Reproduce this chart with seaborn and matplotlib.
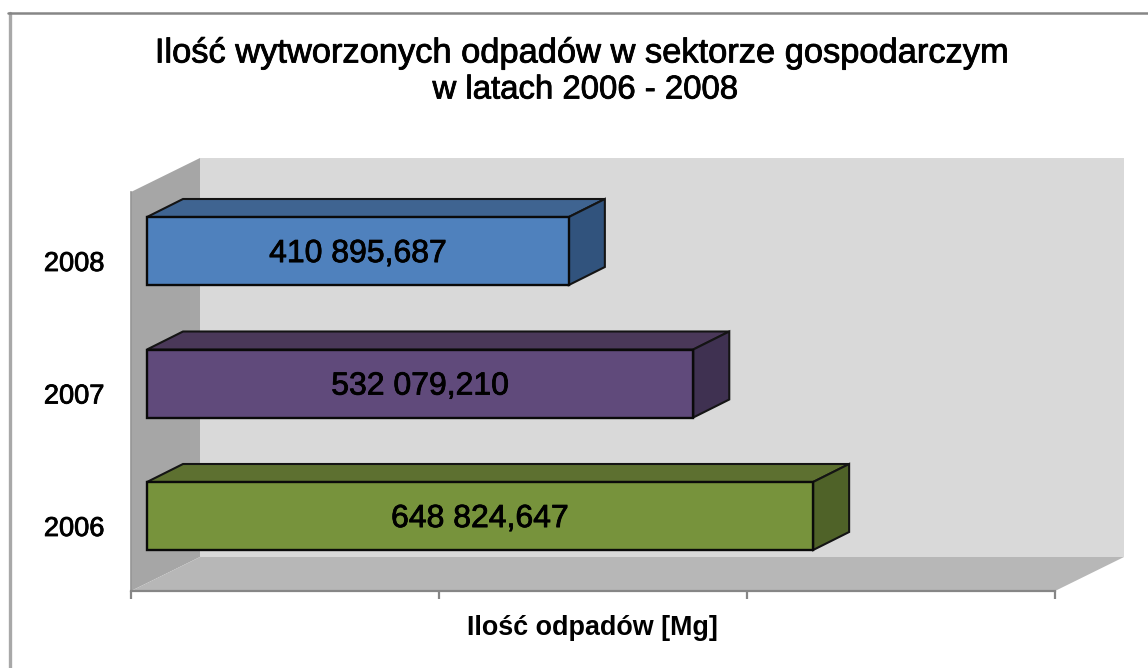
import matplotlib
matplotlib.use("Agg")
import matplotlib.pyplot as plt
import matplotlib.patheffects as pe
import pandas as pd
import seaborn as sns
from matplotlib.lines import Line2D
from matplotlib.patches import Polygon
from matplotlib.transforms import IdentityTransform

years = ["2008", "2007", "2006"]
values = [410895.687, 532079.210, 648824.647]
value_labels = ["410 895,687", "532 079,210", "648 824,647"]
face_colors = ["#4F81BD", "#604A7B", "#77933C"]
top_colors = ["#3F6491", "#4A3859", "#5D7030"]
side_colors = ["#31537D", "#3F3151", "#4F6228"]
title_line_1 = "Ilość wytworzonych odpadów w sektorze gospodarczym"
title_line_2 = "w latach 2006 - 2008"
x_label = "Ilość odpadów [Mg]"
tick_step = 300000
tick_count = 4

W, H = 1148, 668
sns.set_theme(style="white", rc={"font.family": ["Liberation Sans"]})
fig = plt.figure(figsize=(W / 100, H / 100), dpi=100, facecolor="white")
ax = fig.add_axes([131 / W, (H - 591) / H, (1055 - 131) / W, (591 - 192) / H])
ax.patch.set_visible(False)

df = pd.DataFrame({"year": years, "value": values})
sns.barplot(data=df, y="year", x="value", hue="year", palette=face_colors, legend=False,
            order=years, hue_order=years, width=68 / 132.5, edgecolor="#0A0A0A", linewidth=1.7,
            saturation=1, ax=ax, zorder=5, dodge=False)

px_per_unit = 924 / ((tick_count - 1) * tick_step)
x_left = -16 / px_per_unit
ax.set_xlim(x_left, x_left + (tick_count - 1) * tick_step)
ax.set_ylim((591 - 251) / 132.5, (192 - 251) / 132.5)


def add_pixel_poly(points, color, ec="none", lw=0, z=1):
    ax.add_patch(Polygon(points, closed=True, facecolor=color, edgecolor=ec, linewidth=lw,
                         transform=IdentityTransform(), clip_on=False, zorder=z))


# walls of the 3-D box, derived from the axes extents
wall_dx, wall_dy = 69, 34
(x0, y0), (x1, y1) = ax.transAxes.transform((0, 0)), ax.transAxes.transform((1, 1))
add_pixel_poly([(x0 + wall_dx, y0 + wall_dy), (x1 + wall_dx, y0 + wall_dy),
                (x1 + wall_dx, y1 + wall_dy), (x0 + wall_dx, y1 + wall_dy)], "#D9D9D9", z=1)
add_pixel_poly([(x0, y0), (x0 + wall_dx, y0 + wall_dy), (x0 + wall_dx, y1 + wall_dy), (x0, y1)],
               "#A6A6A6", z=2)
add_pixel_poly([(x0, y0), (x1, y0), (x1 + wall_dx, y0 + wall_dy), (x0 + wall_dx, y0 + wall_dy)],
               "#B7B7B7", z=2)

# depth faces of each bar
bar_dx, bar_dy = 36, 18
for patch, top_c, side_c in zip(ax.patches, top_colors, side_colors):
    bb = patch.get_window_extent()
    add_pixel_poly([(bb.x0, bb.y1), (bb.x1, bb.y1), (bb.x1 + bar_dx, bb.y1 + bar_dy),
                    (bb.x0 + bar_dx, bb.y1 + bar_dy)], top_c, "#141414", 1.5, 4)
    add_pixel_poly([(bb.x1, bb.y0), (bb.x1 + bar_dx, bb.y0 + bar_dy),
                    (bb.x1 + bar_dx, bb.y1 + bar_dy), (bb.x1, bb.y1)], side_c, "#141414", 1.5, 4)

heavier = [pe.withStroke(linewidth=0.6, foreground="black")]
for container, label in zip(ax.containers, value_labels):
    for ann in ax.bar_label(container, labels=[label], label_type="center", fontsize=23,
                            color="black", zorder=8):
        ann.xyann = (0, -2.2)
        ann.set_path_effects(heavier)

ax.set_yticks([i + 10 / 132.5 for i in range(len(years))], years, fontsize=19.6, color="black")
for lbl in ax.get_yticklabels():
    lbl.set_path_effects(heavier)
ax.set_xticks([x_left + k * tick_step for k in range(tick_count)], [""] * tick_count)
ax.tick_params(axis="y", left=False, pad=13)
ax.tick_params(axis="x", bottom=True, length=5.5, width=1.6, color="#868686", pad=0)
ax.set_xlabel("")
ax.set_ylabel("")
for side in ("top", "right"):
    ax.spines[side].set_visible(False)
ax.spines["left"].set_color("#969696")
ax.spines["left"].set_linewidth(1.2)
ax.spines["bottom"].set_color("#868686")
ax.spines["bottom"].set_linewidth(1.6)

fig.text(592.5 / W, 1 - 628 / H, x_label, ha="center", va="center", fontsize=19.4, fontweight="bold", color="black")
fig.text(583 / W, 1 - 54 / H, title_line_1, ha="center", va="center", fontsize=24.8, color="black",
         path_effects=heavier)
fig.text(585 / W, 1 - 90 / H, title_line_2, ha="center", va="center", fontsize=23.7, color="black",
         path_effects=heavier)

# chart-area frame: only the left and top edges are inside the picture
fig.add_artist(Line2D([9.5 / W, 9.5 / W], [0, 1 - 13 / H], color="#A8A8A8", lw=2.4))
fig.add_artist(Line2D([8.3 / W, 1], [1 - 13 / H, 1 - 13 / H], color="#868686", lw=1.8))

fig.savefig("out.png", dpi=100)
